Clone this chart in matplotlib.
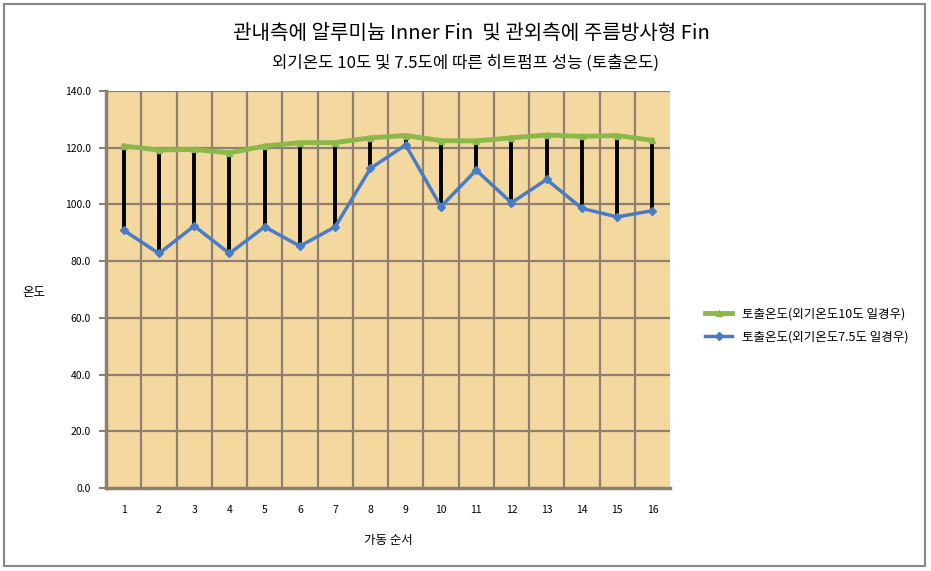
import matplotlib.pyplot as plt
from matplotlib.patches import Rectangle

plt.rcParams['font.family'] = ['Noto Sans CJK KR', 'DejaVu Sans']

# 가동 순서
order = list(range(1, 17))
# 토출온도 (외기온도 10도 일경우)
temp_10 = [120.6, 119.2, 119.4, 118.2, 120.6, 121.8, 121.8, 123.5,
           124.3, 122.5, 122.4, 123.5, 124.5, 124.0, 124.3, 122.6]
# 토출온도 (외기온도 7.5도 일경우)
temp_75 = [90.9, 82.7, 92.4, 82.7, 92.1, 85.3, 92.1, 112.7,
           121.0, 99.2, 112.1, 100.6, 108.8, 98.6, 95.6, 97.8]

title = '관내측에 알루미늄 Inner Fin  및 관외측에 주름방사형 Fin'
subtitle = '외기온도 10도 및 7.5도에 따른 히트펌프 성능 (토출온도)'
label_10 = '토출온도(외기온도10도 일경우)'
label_75 = '토출온도(외기온도7.5도 일경우)'

fig = plt.figure(figsize=(9.31, 5.71), dpi=100)
fig.patches.append(Rectangle((0.004, 0.008), 0.99, 0.985, transform=fig.transFigure,
                             fill=False, edgecolor='#888888', linewidth=1.5))

ax = fig.add_axes([0.1139, 0.1454, 0.6058, 0.6952])
ax.set_facecolor('#f3d8a0')

grid_c = '#8e7f70'
for v in range(20, 141, 20):
    ax.axhline(v, color=grid_c, linewidth=1.6, zorder=1)
for i in range(1, 16):
    ax.axvline(i + 0.5, color=grid_c, linewidth=1.6, zorder=1)

# high-low lines
ax.vlines(order, temp_75, temp_10, color='black', linewidth=2.8, zorder=2)

ax.plot(order, temp_10, color='#8cb84a', linewidth=3.5, marker='^', markersize=5,
        label=label_10, zorder=3)
ax.plot(order, temp_75, color='#4a7cc4', linewidth=2.5, marker='D', markersize=4,
        label=label_75, zorder=4)

ax.set_xlim(0.5, 16.5)
ax.set_ylim(0, 140)
ax.set_xticks(order)
ax.set_xticklabels([str(i) for i in order], fontsize=7.5)
ax.set_yticks(range(0, 141, 20))
ax.set_yticklabels([f'{v:.1f}' for v in range(0, 141, 20)], fontsize=7.5)
ax.tick_params(axis='x', length=0, pad=12)
ax.tick_params(axis='y', length=5, width=1.5, color=grid_c, pad=6)

for s in ['top', 'right']:
    ax.spines[s].set_visible(False)
for s in ['left', 'bottom']:
    ax.spines[s].set_color(grid_c)
    ax.spines[s].set_linewidth(2.5)

ax.set_xlabel('가동 순서', fontsize=9, labelpad=14)
fig.text(0.036, 0.487, '온도', fontsize=9, ha='center', va='center')

fig.text(0.506, 0.942, title, fontsize=14.5, fontweight='medium', ha='center', va='center')
fig.text(0.5, 0.89, subtitle, fontsize=12, ha='center', va='center')

fig.legend(loc='center left', bbox_to_anchor=(0.745, 0.43), frameon=False,
           fontsize=9, handlelength=2.2, labelspacing=0.8)

fig.savefig('out.png', dpi=100)
